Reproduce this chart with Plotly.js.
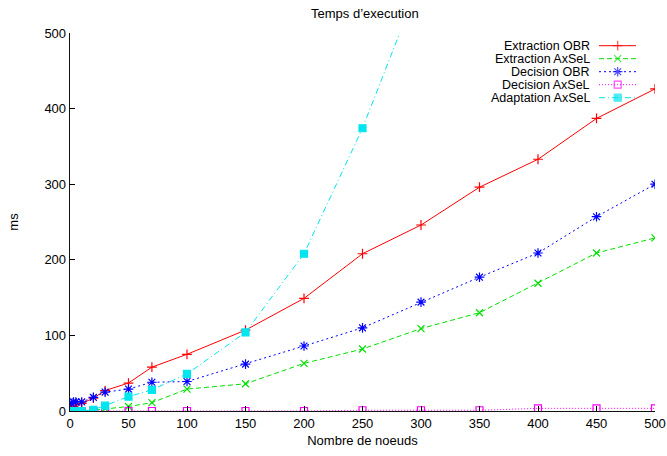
<!DOCTYPE html>
<html>
<head>
<meta charset="utf-8">
<script src="https://cdn.plot.ly/plotly-3.0.1.min.js"></script>
<style>html,body{margin:0;padding:0;background:#fff;}#chart{width:667px;height:456px;}</style>
</head>
<body>
<div id="chart"></div>
<script>
// ---- data ----
const nodes = [1, 3, 5, 10, 20, 30, 50, 70, 100, 150, 200, 250, 300, 350, 400, 450, 500];
const extractionOBR   = [4, 6, 8, 10, 17, 27, 37, 58, 75, 107, 149, 208, 246, 296, 333, 387, 426];
const extractionAxSeL = [0, 0, 0, 0, 1, 3, 6, 11, 29, 36, 63, 82, 109, 130, 169, 209, 229];
const decisionOBR     = [10, 12, 12, 12, 18, 25, 29, 38, 39, 62, 86, 110, 144, 177, 209, 257, 300];
const decisionAxSeL   = [0, 0, 0, 0, 0, 0, 0, 0, 0, 0, 0, 1, 1, 1, 3.5, 3.5, 3.5];
const adaptNodes      = [1, 3, 5, 10, 20, 30, 50, 70, 100, 150, 200, 250, 300];
const adaptationAxSeL = [0, 0, 0, 0, 1.5, 7, 19, 28, 49, 104, 208, 374, 572];

const seriesNames = ["Extraction OBR", "Extraction AxSeL", "Decision OBR", "Decision AxSeL", "Adaptation AxSeL"];
const xTicks = [0, 50, 100, 150, 200, 250, 300, 350, 400, 450, 500];
const yTicks = [0, 100, 200, 300, 400, 500];

// ---- styles ----
const FONT = "Liberation Sans, Arial, Helvetica, sans-serif";
const styles = [
  {color: "#ff0000", dash: "solid",   symbol: "cross-thin-open", size: 7},
  {color: "#00e000", dash: "5px,3px", symbol: "x-thin-open",     size: 7},
  {color: "#0000ff", dash: "2px,3px", symbol: "asterisk-open",   size: 8},
  {color: "#ff00ff", dash: "1px,2px", symbol: "square-open",     size: 7},
  {color: "#00e5ee", dash: "6px,3px,1px,3px", symbol: "square", size: 7}
];
const seriesX = [nodes, nodes, nodes, nodes, adaptNodes];
const seriesY = [extractionOBR, extractionAxSeL, decisionOBR, decisionAxSeL, adaptationAxSeL];

const traces = [];
for (let i = 0; i < seriesNames.length; i++) {
  const s = styles[i];
  traces.push({
    type: "scatter", mode: "lines+markers", name: seriesNames[i],
    x: seriesX[i], y: seriesY[i], cliponaxis: true,
    line: {color: s.color, width: 1, dash: s.dash},
    marker: {color: s.color, symbol: s.symbol, size: s.size, line: {color: s.color, width: 1.2}},
    showlegend: false, hoverinfo: "skip"
  });
}

// ---- custom legend (text left, sample right, like gnuplot) ----
const plotL = 70, plotR = 655, plotT = 33, plotB = 411;
const fx = px => (px - plotL) / (plotR - plotL);
const fy = py => (plotB - py) / (plotB - plotT);
const legTop = 45.7, legStep = 13.0;
const annotations = [];
for (let i = 0; i < seriesNames.length; i++) {
  const s = styles[i];
  const py = legTop + i * legStep;
  annotations.push({
    xref: "paper", yref: "paper", x: fx(591), y: fy(py), xanchor: "right", yanchor: "middle",
    text: seriesNames[i], showarrow: false, borderpad: 0,
    font: {family: FONT, size: 12.5, color: "#000"}
  });
  traces.push({
    type: "scatter", mode: "lines+markers", xaxis: "x2", yaxis: "y2",
    x: [fx(599), fx(617.7), fx(636)], y: [fy(py), fy(py), fy(py)],
    line: {color: s.color, width: 1, dash: s.dash},
    marker: {color: s.color, symbol: s.symbol, size: [0, s.size, 0], line: {color: s.color, width: 1.2}},
    showlegend: false, hoverinfo: "skip"
  });
}

const layout = {
  width: 667, height: 456,
  margin: {l: plotL, r: 667 - plotR, t: plotT, b: 456 - plotB, pad: 0},
  paper_bgcolor: "#fff", plot_bgcolor: "#fff",
  font: {family: FONT, size: 13, color: "#000"},
  showlegend: false,
  title: {text: "Temps d’execution", x: 0.547, xanchor: "center", y: 0.97, yanchor: "middle",
          font: {family: FONT, size: 13, color: "#000"}},
  xaxis: {
    range: [0, 500], tickvals: xTicks, ticktext: xTicks.map(String),
    ticks: "inside", ticklen: 5, tickcolor: "#000", tickwidth: 1,
    showline: true, linecolor: "#111", linewidth: 1.3, mirror: false,
    showgrid: false, zeroline: false, automargin: false,
    tickfont: {family: FONT, size: 13, color: "#000"},
    title: {text: "Nombre de noeuds", standoff: 6, font: {family: FONT, size: 13, color: "#000"}}
  },
  yaxis: {
    range: [0, 500], tickvals: yTicks, ticktext: yTicks.map(String),
    ticks: "inside", ticklen: 5, tickcolor: "#000", tickwidth: 1,
    showline: true, linecolor: "#111", linewidth: 1.3, mirror: false,
    showgrid: false, zeroline: false, automargin: false,
    tickfont: {family: FONT, size: 13, color: "#000"},
    title: {text: "ms", standoff: 22, font: {family: FONT, size: 13, color: "#000"}}
  },
  xaxis2: {overlaying: "x", range: [0, 1], visible: false, fixedrange: true},
  yaxis2: {overlaying: "y", range: [0, 1], visible: false, fixedrange: true},
  annotations: annotations
};

Plotly.newPlot("chart", traces, layout, {displayModeBar: false, staticPlot: true});
</script>
</body>
</html>
